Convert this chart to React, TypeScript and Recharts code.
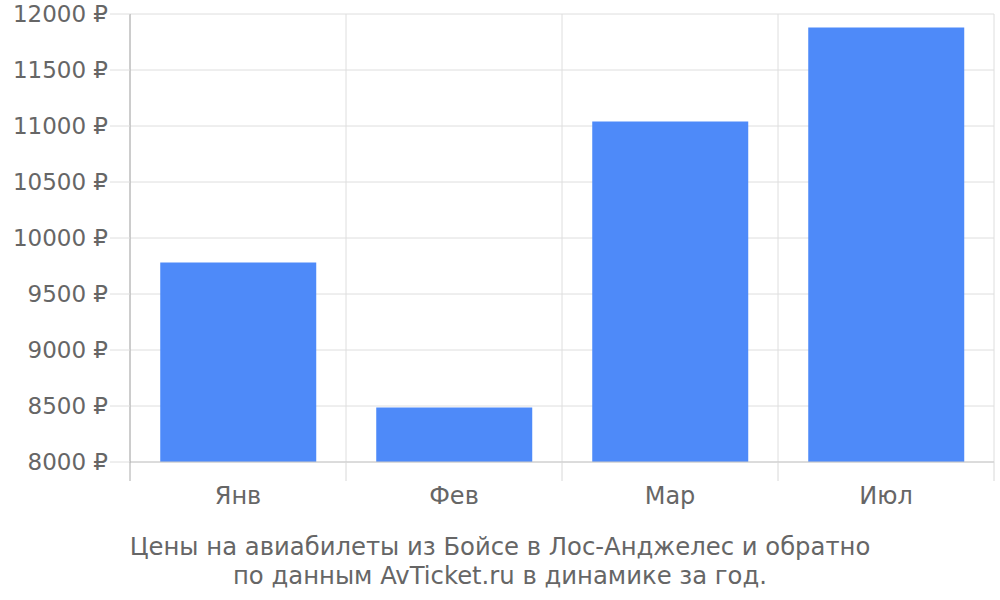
import { BarChart, Bar, XAxis, YAxis, CartesianGrid } from 'recharts'

const months = ['Янв', 'Фев', 'Мар', 'Июл']
const prices = [9781, 8487, 11040, 11879]
const yTicks = [8000, 8500, 9000, 9500, 10000, 10500, 11000, 11500, 12000]
const captionLines = [
  'Цены на авиабилеты из Бойсе в Лос-Анджелес и обратно',
  'по данным AvTicket.ru в динамике за год.',
]

const data = months.map((m, i) => ({ month: m, price: prices[i] }))

const font = 'DejaVu Sans, sans-serif'

// label in the middle of the band, tick marks on the band edges
function MonthTick(props: any) {
  const { x, y, payload, index } = props
  const half = payload.offset || 0
  const last = index === months.length - 1
  return (
    <g>
      <line x1={x - half} x2={x - half} y1={y} y2={y + 19} stroke={index === 0 ? '#aaa' : '#d8d8d8'} />
      {last && <line x1={x + half} x2={x + half} y1={y} y2={y + 19} stroke="#d8d8d8" />}
      <text x={x} y={y + 42} textAnchor="middle" style={{ fontSize: 24 }} fill="#666" fontFamily={font}>
        {payload.value}
      </text>
    </g>
  )
}

export default function App() {
  return (
    <div style={{ position: 'absolute', left: 0, top: 0, width: 1000, height: 600, background: '#fff', fontFamily: font }}>
      <BarChart
        width={1000}
        height={520}
        data={data}
        margin={{ top: 14, right: 6, left: 0, bottom: 0 }}
        barCategoryGap="14%"
      >
        <CartesianGrid
          stroke="#dedede"
          verticalCoordinatesGenerator={({ offset }: any) =>
            months.map((_, i) => offset.left + (i * offset.width) / months.length).concat(offset.left + offset.width)
          }
        />
        <XAxis
          dataKey="month"
          axisLine={{ stroke: '#c8c8c8' }}
          tickLine={false}
          tickSize={0}
          tickMargin={0}
          tick={<MonthTick />}
          height={58}
          interval={0}
        />
        <YAxis
          domain={[8000, 12000]}
          ticks={yTicks}
          width={130}
          tickSize={20}
          tickMargin={2}
          tickLine={{ stroke: '#dedede' }}
          axisLine={{ stroke: '#aaa' }}
          tickFormatter={(v: number) => `${v} ₽`}
          tick={{ fontSize: 23, fill: '#666', fontFamily: font }}
          interval={0}
        />
        <Bar dataKey="price" fill="#4e8af9" isAnimationActive={false} />
      </BarChart>
      <div style={{ position: 'absolute', left: 0, top: 532, width: 1000, textAlign: 'center', fontSize: 24.3, lineHeight: '29px', color: '#666' }}>
        {captionLines.map((l) => (
          <div key={l}>{l}</div>
        ))}
      </div>
    </div>
  )
}
